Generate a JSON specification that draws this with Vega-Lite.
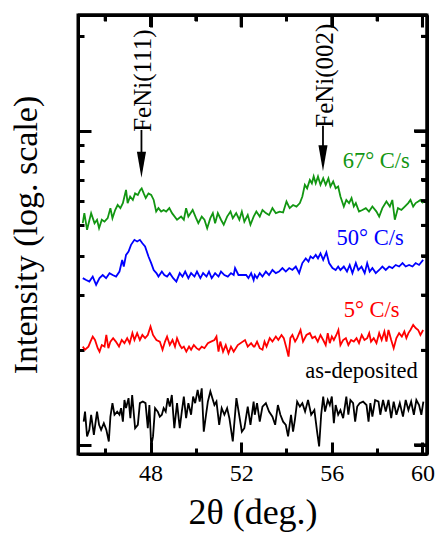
{
"$schema": "https://vega.github.io/schema/vega-lite/v6.json",
"width": 349, "height": 439,
"autosize": {"type": "none"},
"padding": {"left": 78, "top": 15, "right": 11, "bottom": 81},
"config": {"view": {"stroke": "black", "strokeWidth": 3}, "font": "Liberation Serif",
  "axis": {"grid": false, "domain": true, "labels": false, "labelFont": "Liberation Serif", "titleFont": "Liberation Serif", "tickColor": "black", "tickWidth": 3, "domainColor": "black", "domainWidth": 3, "labelColor": "black", "titleColor": "black", "titleFontWeight": "normal", "labelFlush": false}},
"resolve": {"axis": {"x": "independent", "y": "independent"}},
"layer": [
{
 "data": {"values": [
{"series":"67° C/s","x":45.01,"y":0.706},{"series":"67° C/s","x":45.08,"y":0.738},{"series":"67° C/s","x":45.20,"y":0.685},{"series":"67° C/s","x":45.38,"y":0.738},{"series":"67° C/s","x":45.53,"y":0.706},{"series":"67° C/s","x":45.64,"y":0.717},{"series":"67° C/s","x":45.73,"y":0.690},{"series":"67° C/s","x":45.85,"y":0.717},{"series":"67° C/s","x":45.97,"y":0.711},{"series":"67° C/s","x":46.11,"y":0.722},{"series":"67° C/s","x":46.23,"y":0.754},{"series":"67° C/s","x":46.32,"y":0.722},{"series":"67° C/s","x":46.44,"y":0.748},{"series":"67° C/s","x":46.55,"y":0.764},{"series":"67° C/s","x":46.67,"y":0.754},{"series":"67° C/s","x":46.78,"y":0.770},{"series":"67° C/s","x":46.85,"y":0.791},{"series":"67° C/s","x":46.92,"y":0.812},{"series":"67° C/s","x":46.99,"y":0.770},{"series":"67° C/s","x":47.10,"y":0.791},{"series":"67° C/s","x":47.22,"y":0.780},{"series":"67° C/s","x":47.32,"y":0.801},{"series":"67° C/s","x":47.44,"y":0.796},{"series":"67° C/s","x":47.55,"y":0.812},{"series":"67° C/s","x":47.61,"y":0.817},{"series":"67° C/s","x":47.70,"y":0.801},{"series":"67° C/s","x":47.79,"y":0.786},{"series":"67° C/s","x":47.91,"y":0.801},{"series":"67° C/s","x":48.03,"y":0.796},{"series":"67° C/s","x":48.14,"y":0.780},{"series":"67° C/s","x":48.25,"y":0.743},{"series":"67° C/s","x":48.35,"y":0.754},{"series":"67° C/s","x":48.47,"y":0.743},{"series":"67° C/s","x":48.58,"y":0.748},{"series":"67° C/s","x":48.69,"y":0.743},{"series":"67° C/s","x":48.83,"y":0.754},{"series":"67° C/s","x":48.95,"y":0.738},{"series":"67° C/s","x":49.17,"y":0.717},{"series":"67° C/s","x":49.35,"y":0.727},{"series":"67° C/s","x":49.47,"y":0.717},{"series":"67° C/s","x":49.57,"y":0.754},{"series":"67° C/s","x":49.67,"y":0.727},{"series":"67° C/s","x":49.86,"y":0.748},{"series":"67° C/s","x":50.01,"y":0.722},{"series":"67° C/s","x":50.11,"y":0.706},{"series":"67° C/s","x":50.26,"y":0.727},{"series":"67° C/s","x":50.38,"y":0.717},{"series":"67° C/s","x":50.50,"y":0.690},{"series":"67° C/s","x":50.64,"y":0.722},{"series":"67° C/s","x":50.75,"y":0.738},{"series":"67° C/s","x":50.85,"y":0.706},{"series":"67° C/s","x":50.97,"y":0.738},{"series":"67° C/s","x":51.11,"y":0.717},{"series":"67° C/s","x":51.23,"y":0.701},{"series":"67° C/s","x":51.38,"y":0.727},{"series":"67° C/s","x":51.53,"y":0.743},{"series":"67° C/s","x":51.63,"y":0.722},{"series":"67° C/s","x":51.78,"y":0.738},{"series":"67° C/s","x":51.92,"y":0.717},{"series":"67° C/s","x":52.03,"y":0.743},{"series":"67° C/s","x":52.14,"y":0.711},{"series":"67° C/s","x":52.29,"y":0.732},{"series":"67° C/s","x":52.41,"y":0.701},{"series":"67° C/s","x":52.55,"y":0.727},
{"series":"67° C/s","x":52.67,"y":0.743},{"series":"67° C/s","x":52.82,"y":0.727},{"series":"67° C/s","x":52.94,"y":0.748},{"series":"67° C/s","x":53.09,"y":0.738},{"series":"67° C/s","x":53.23,"y":0.732},{"series":"67° C/s","x":53.38,"y":0.754},{"series":"67° C/s","x":53.53,"y":0.738},{"series":"67° C/s","x":53.70,"y":0.743},{"series":"67° C/s","x":53.85,"y":0.740},{"series":"67° C/s","x":54.00,"y":0.775},{"series":"67° C/s","x":54.14,"y":0.754},{"series":"67° C/s","x":54.29,"y":0.764},{"series":"67° C/s","x":54.44,"y":0.759},{"series":"67° C/s","x":54.59,"y":0.770},{"series":"67° C/s","x":54.70,"y":0.791},{"series":"67° C/s","x":54.81,"y":0.828},{"series":"67° C/s","x":54.91,"y":0.817},{"series":"67° C/s","x":55.03,"y":0.844},{"series":"67° C/s","x":55.12,"y":0.833},{"series":"67° C/s","x":55.20,"y":0.855},{"series":"67° C/s","x":55.29,"y":0.833},{"series":"67° C/s","x":55.39,"y":0.855},{"series":"67° C/s","x":55.50,"y":0.828},{"series":"67° C/s","x":55.62,"y":0.849},{"series":"67° C/s","x":55.73,"y":0.828},{"series":"67° C/s","x":55.85,"y":0.849},{"series":"67° C/s","x":55.94,"y":0.823},{"series":"67° C/s","x":56.06,"y":0.839},{"series":"67° C/s","x":56.17,"y":0.817},{"series":"67° C/s","x":56.28,"y":0.823},{"series":"67° C/s","x":56.38,"y":0.791},{"series":"67° C/s","x":56.53,"y":0.759},{"series":"67° C/s","x":56.64,"y":0.780},{"series":"67° C/s","x":56.76,"y":0.770},{"series":"67° C/s","x":56.87,"y":0.786},{"series":"67° C/s","x":56.97,"y":0.759},{"series":"67° C/s","x":57.06,"y":0.770},{"series":"67° C/s","x":57.20,"y":0.743},{"series":"67° C/s","x":57.35,"y":0.748},{"series":"67° C/s","x":57.50,"y":0.754},{"series":"67° C/s","x":57.64,"y":0.743},{"series":"67° C/s","x":57.79,"y":0.759},{"series":"67° C/s","x":57.97,"y":0.743},{"series":"67° C/s","x":58.09,"y":0.727},{"series":"67° C/s","x":58.23,"y":0.754},{"series":"67° C/s","x":58.41,"y":0.775},{"series":"67° C/s","x":58.56,"y":0.759},{"series":"67° C/s","x":58.67,"y":0.780},{"series":"67° C/s","x":58.78,"y":0.717},{"series":"67° C/s","x":58.92,"y":0.754},{"series":"67° C/s","x":59.07,"y":0.748},{"series":"67° C/s","x":59.22,"y":0.759},{"series":"67° C/s","x":59.37,"y":0.770},{"series":"67° C/s","x":59.47,"y":0.780},{"series":"67° C/s","x":59.59,"y":0.759},{"series":"67° C/s","x":59.70,"y":0.770},{"series":"67° C/s","x":59.81,"y":0.775},{"series":"67° C/s","x":59.91,"y":0.780},{"series":"67° C/s","x":60.03,"y":0.770},
{"series":"50° C/s","x":45.01,"y":0.531},{"series":"50° C/s","x":45.16,"y":0.525},{"series":"50° C/s","x":45.30,"y":0.520},{"series":"50° C/s","x":45.45,"y":0.536},{"series":"50° C/s","x":45.60,"y":0.510},{"series":"50° C/s","x":45.75,"y":0.531},{"series":"50° C/s","x":45.89,"y":0.541},{"series":"50° C/s","x":46.04,"y":0.531},{"series":"50° C/s","x":46.19,"y":0.547},{"series":"50° C/s","x":46.33,"y":0.541},{"series":"50° C/s","x":46.48,"y":0.536},{"series":"50° C/s","x":46.63,"y":0.552},{"series":"50° C/s","x":46.75,"y":0.589},{"series":"50° C/s","x":46.82,"y":0.568},{"series":"50° C/s","x":46.92,"y":0.605},{"series":"50° C/s","x":47.03,"y":0.616},{"series":"50° C/s","x":47.14,"y":0.637},{"series":"50° C/s","x":47.29,"y":0.653},{"series":"50° C/s","x":47.41,"y":0.648},{"series":"50° C/s","x":47.53,"y":0.653},{"series":"50° C/s","x":47.64,"y":0.642},{"series":"50° C/s","x":47.76,"y":0.632},{"series":"50° C/s","x":47.91,"y":0.600},{"series":"50° C/s","x":48.03,"y":0.579},{"series":"50° C/s","x":48.14,"y":0.557},{"series":"50° C/s","x":48.26,"y":0.547},{"series":"50° C/s","x":48.35,"y":0.536},{"series":"50° C/s","x":48.50,"y":0.552},{"series":"50° C/s","x":48.61,"y":0.541},{"series":"50° C/s","x":48.73,"y":0.536},{"series":"50° C/s","x":48.85,"y":0.547},{"series":"50° C/s","x":49.00,"y":0.531},{"series":"50° C/s","x":49.14,"y":0.520},{"series":"50° C/s","x":49.29,"y":0.547},{"series":"50° C/s","x":49.41,"y":0.536},{"series":"50° C/s","x":49.53,"y":0.552},{"series":"50° C/s","x":49.67,"y":0.531},{"series":"50° C/s","x":49.79,"y":0.547},{"series":"50° C/s","x":49.94,"y":0.536},{"series":"50° C/s","x":50.05,"y":0.552},{"series":"50° C/s","x":50.20,"y":0.531},{"series":"50° C/s","x":50.32,"y":0.547},{"series":"50° C/s","x":50.47,"y":0.536},{"series":"50° C/s","x":50.58,"y":0.552},{"series":"50° C/s","x":50.70,"y":0.531},{"series":"50° C/s","x":50.85,"y":0.547},{"series":"50° C/s","x":51.00,"y":0.536},{"series":"50° C/s","x":51.11,"y":0.552},{"series":"50° C/s","x":51.26,"y":0.541},{"series":"50° C/s","x":51.41,"y":0.536},{"series":"50° C/s","x":51.55,"y":0.547},{"series":"50° C/s","x":51.67,"y":0.541},{"series":"50° C/s","x":51.73,"y":0.563},{"series":"50° C/s","x":51.88,"y":0.541},{"series":"50° C/s","x":52.07,"y":0.541},{"series":"50° C/s","x":52.22,"y":0.541},{"series":"50° C/s","x":52.32,"y":0.531},{"series":"50° C/s","x":52.44,"y":0.547},{"series":"50° C/s","x":52.55,"y":0.525},
{"series":"50° C/s","x":52.60,"y":0.541},{"series":"50° C/s","x":52.70,"y":0.531},{"series":"50° C/s","x":52.82,"y":0.547},{"series":"50° C/s","x":52.94,"y":0.536},{"series":"50° C/s","x":53.09,"y":0.552},{"series":"50° C/s","x":53.23,"y":0.541},{"series":"50° C/s","x":53.38,"y":0.557},{"series":"50° C/s","x":53.53,"y":0.547},{"series":"50° C/s","x":53.67,"y":0.552},{"series":"50° C/s","x":53.82,"y":0.563},{"series":"50° C/s","x":53.97,"y":0.552},{"series":"50° C/s","x":54.12,"y":0.563},{"series":"50° C/s","x":54.26,"y":0.557},{"series":"50° C/s","x":54.41,"y":0.568},{"series":"50° C/s","x":54.56,"y":0.547},{"series":"50° C/s","x":54.70,"y":0.579},{"series":"50° C/s","x":54.85,"y":0.594},{"series":"50° C/s","x":54.97,"y":0.584},{"series":"50° C/s","x":55.06,"y":0.600},{"series":"50° C/s","x":55.17,"y":0.594},{"series":"50° C/s","x":55.29,"y":0.605},{"series":"50° C/s","x":55.39,"y":0.594},{"series":"50° C/s","x":55.50,"y":0.610},{"series":"50° C/s","x":55.62,"y":0.589},{"series":"50° C/s","x":55.76,"y":0.613},{"series":"50° C/s","x":55.88,"y":0.579},{"series":"50° C/s","x":56.03,"y":0.563},{"series":"50° C/s","x":56.17,"y":0.557},{"series":"50° C/s","x":56.28,"y":0.568},{"series":"50° C/s","x":56.38,"y":0.557},{"series":"50° C/s","x":56.53,"y":0.568},{"series":"50° C/s","x":56.67,"y":0.552},{"series":"50° C/s","x":56.79,"y":0.573},{"series":"50° C/s","x":56.91,"y":0.547},{"series":"50° C/s","x":57.06,"y":0.579},{"series":"50° C/s","x":57.17,"y":0.557},{"series":"50° C/s","x":57.31,"y":0.568},{"series":"50° C/s","x":57.45,"y":0.547},{"series":"50° C/s","x":57.56,"y":0.579},{"series":"50° C/s","x":57.67,"y":0.552},{"series":"50° C/s","x":57.79,"y":0.563},{"series":"50° C/s","x":57.94,"y":0.547},{"series":"50° C/s","x":58.09,"y":0.557},{"series":"50° C/s","x":58.23,"y":0.568},{"series":"50° C/s","x":58.38,"y":0.557},{"series":"50° C/s","x":58.53,"y":0.568},{"series":"50° C/s","x":58.67,"y":0.563},{"series":"50° C/s","x":58.82,"y":0.573},{"series":"50° C/s","x":58.97,"y":0.568},{"series":"50° C/s","x":59.12,"y":0.579},{"series":"50° C/s","x":59.26,"y":0.568},{"series":"50° C/s","x":59.41,"y":0.573},{"series":"50° C/s","x":59.56,"y":0.568},{"series":"50° C/s","x":59.70,"y":0.579},{"series":"50° C/s","x":59.85,"y":0.573},{"series":"50° C/s","x":60.03,"y":0.589},
{"series":"5° C/s","x":45.01,"y":0.313},{"series":"5° C/s","x":45.11,"y":0.303},{"series":"5° C/s","x":45.26,"y":0.313},{"series":"5° C/s","x":45.35,"y":0.329},{"series":"5° C/s","x":45.45,"y":0.345},{"series":"5° C/s","x":45.55,"y":0.334},{"series":"5° C/s","x":45.67,"y":0.308},{"series":"5° C/s","x":45.75,"y":0.297},{"series":"5° C/s","x":45.85,"y":0.318},{"series":"5° C/s","x":45.97,"y":0.313},{"series":"5° C/s","x":46.05,"y":0.350},{"series":"5° C/s","x":46.14,"y":0.308},{"series":"5° C/s","x":46.23,"y":0.329},{"series":"5° C/s","x":46.35,"y":0.340},{"series":"5° C/s","x":46.47,"y":0.329},{"series":"5° C/s","x":46.61,"y":0.313},{"series":"5° C/s","x":46.73,"y":0.334},{"series":"5° C/s","x":46.85,"y":0.324},{"series":"5° C/s","x":46.97,"y":0.340},{"series":"5° C/s","x":47.08,"y":0.324},{"series":"5° C/s","x":47.20,"y":0.356},{"series":"5° C/s","x":47.29,"y":0.334},{"series":"5° C/s","x":47.41,"y":0.356},{"series":"5° C/s","x":47.53,"y":0.334},{"series":"5° C/s","x":47.64,"y":0.350},{"series":"5° C/s","x":47.76,"y":0.340},{"series":"5° C/s","x":47.88,"y":0.350},{"series":"5° C/s","x":48.00,"y":0.377},{"series":"5° C/s","x":48.11,"y":0.350},{"series":"5° C/s","x":48.26,"y":0.334},{"series":"5° C/s","x":48.41,"y":0.329},{"series":"5° C/s","x":48.53,"y":0.303},{"series":"5° C/s","x":48.64,"y":0.329},{"series":"5° C/s","x":48.73,"y":0.345},{"series":"5° C/s","x":48.85,"y":0.318},{"series":"5° C/s","x":48.97,"y":0.334},{"series":"5° C/s","x":49.08,"y":0.313},{"series":"5° C/s","x":49.17,"y":0.340},{"series":"5° C/s","x":49.29,"y":0.318},{"series":"5° C/s","x":49.38,"y":0.308},{"series":"5° C/s","x":49.47,"y":0.313},{"series":"5° C/s","x":49.58,"y":0.297},{"series":"5° C/s","x":49.70,"y":0.313},{"series":"5° C/s","x":49.79,"y":0.303},{"series":"5° C/s","x":49.91,"y":0.318},{"series":"5° C/s","x":50.03,"y":0.308},{"series":"5° C/s","x":50.14,"y":0.303},{"series":"5° C/s","x":50.26,"y":0.313},{"series":"5° C/s","x":50.38,"y":0.308},{"series":"5° C/s","x":50.53,"y":0.324},{"series":"5° C/s","x":50.67,"y":0.329},{"series":"5° C/s","x":50.82,"y":0.334},{"series":"5° C/s","x":50.91,"y":0.345},{"series":"5° C/s","x":51.00,"y":0.297},{"series":"5° C/s","x":51.08,"y":0.329},{"series":"5° C/s","x":51.20,"y":0.297},{"series":"5° C/s","x":51.32,"y":0.318},{"series":"5° C/s","x":51.44,"y":0.292},{"series":"5° C/s","x":51.55,"y":0.313},{"series":"5° C/s","x":51.67,"y":0.297},{"series":"5° C/s","x":51.85,"y":0.318},{"series":"5° C/s","x":52.17,"y":0.334},{"series":"5° C/s","x":52.29,"y":0.313},{"series":"5° C/s","x":52.44,"y":0.324},{"series":"5° C/s","x":52.55,"y":0.313},
{"series":"5° C/s","x":52.59,"y":0.313},{"series":"5° C/s","x":52.70,"y":0.329},{"series":"5° C/s","x":52.82,"y":0.308},{"series":"5° C/s","x":52.94,"y":0.303},{"series":"5° C/s","x":53.03,"y":0.329},{"series":"5° C/s","x":53.12,"y":0.313},{"series":"5° C/s","x":53.26,"y":0.340},{"series":"5° C/s","x":53.38,"y":0.329},{"series":"5° C/s","x":53.53,"y":0.345},{"series":"5° C/s","x":53.64,"y":0.334},{"series":"5° C/s","x":53.78,"y":0.350},{"series":"5° C/s","x":53.88,"y":0.340},{"series":"5° C/s","x":54.00,"y":0.308},{"series":"5° C/s","x":54.09,"y":0.281},{"series":"5° C/s","x":54.17,"y":0.340},{"series":"5° C/s","x":54.26,"y":0.350},{"series":"5° C/s","x":54.38,"y":0.329},{"series":"5° C/s","x":54.47,"y":0.340},{"series":"5° C/s","x":54.62,"y":0.366},{"series":"5° C/s","x":54.73,"y":0.329},{"series":"5° C/s","x":54.88,"y":0.350},{"series":"5° C/s","x":55.03,"y":0.356},{"series":"5° C/s","x":55.14,"y":0.340},{"series":"5° C/s","x":55.26,"y":0.345},{"series":"5° C/s","x":55.38,"y":0.329},{"series":"5° C/s","x":55.50,"y":0.350},{"series":"5° C/s","x":55.62,"y":0.334},{"series":"5° C/s","x":55.73,"y":0.318},{"series":"5° C/s","x":55.82,"y":0.356},{"series":"5° C/s","x":55.91,"y":0.324},{"series":"5° C/s","x":56.00,"y":0.345},{"series":"5° C/s","x":56.09,"y":0.334},{"series":"5° C/s","x":56.20,"y":0.350},{"series":"5° C/s","x":56.29,"y":0.366},{"series":"5° C/s","x":56.38,"y":0.318},{"series":"5° C/s","x":56.50,"y":0.334},{"series":"5° C/s","x":56.62,"y":0.340},{"series":"5° C/s","x":56.73,"y":0.318},{"series":"5° C/s","x":56.85,"y":0.334},{"series":"5° C/s","x":56.97,"y":0.329},{"series":"5° C/s","x":57.09,"y":0.340},{"series":"5° C/s","x":57.20,"y":0.324},{"series":"5° C/s","x":57.32,"y":0.350},{"series":"5° C/s","x":57.44,"y":0.334},{"series":"5° C/s","x":57.56,"y":0.340},{"series":"5° C/s","x":57.65,"y":0.356},{"series":"5° C/s","x":57.73,"y":0.329},{"series":"5° C/s","x":57.85,"y":0.340},{"series":"5° C/s","x":57.97,"y":0.324},{"series":"5° C/s","x":58.09,"y":0.356},{"series":"5° C/s","x":58.20,"y":0.334},{"series":"5° C/s","x":58.32,"y":0.361},{"series":"5° C/s","x":58.41,"y":0.329},{"series":"5° C/s","x":58.50,"y":0.366},{"series":"5° C/s","x":58.62,"y":0.334},{"series":"5° C/s","x":58.73,"y":0.308},{"series":"5° C/s","x":58.85,"y":0.340},{"series":"5° C/s","x":58.97,"y":0.356},{"series":"5° C/s","x":59.09,"y":0.345},{"series":"5° C/s","x":59.20,"y":0.361},{"series":"5° C/s","x":59.29,"y":0.340},{"series":"5° C/s","x":59.38,"y":0.356},{"series":"5° C/s","x":59.47,"y":0.366},{"series":"5° C/s","x":59.59,"y":0.382},{"series":"5° C/s","x":59.70,"y":0.372},{"series":"5° C/s","x":59.81,"y":0.366},{"series":"5° C/s","x":59.91,"y":0.350},{"series":"5° C/s","x":60.03,"y":0.366},
{"series":"as-deposited","x":45.05,"y":0.074},{"series":"as-deposited","x":45.11,"y":0.106},{"series":"as-deposited","x":45.20,"y":0.027},{"series":"as-deposited","x":45.30,"y":0.048},{"series":"as-deposited","x":45.38,"y":0.096},{"series":"as-deposited","x":45.50,"y":0.032},{"series":"as-deposited","x":45.64,"y":0.106},{"series":"as-deposited","x":45.73,"y":0.064},{"series":"as-deposited","x":45.82,"y":0.048},{"series":"as-deposited","x":45.94,"y":0.069},{"series":"as-deposited","x":46.05,"y":0.048},{"series":"as-deposited","x":46.16,"y":0.011},{"series":"as-deposited","x":46.23,"y":0.090},{"series":"as-deposited","x":46.32,"y":0.133},{"series":"as-deposited","x":46.41,"y":0.096},{"series":"as-deposited","x":46.53,"y":0.106},{"series":"as-deposited","x":46.63,"y":0.096},{"series":"as-deposited","x":46.70,"y":0.117},{"series":"as-deposited","x":46.78,"y":0.074},{"series":"as-deposited","x":46.85,"y":0.143},{"series":"as-deposited","x":46.92,"y":0.117},{"series":"as-deposited","x":47.03,"y":0.149},{"series":"as-deposited","x":47.11,"y":0.085},{"series":"as-deposited","x":47.19,"y":0.159},{"series":"as-deposited","x":47.32,"y":0.053},{"series":"as-deposited","x":47.44,"y":0.064},{"series":"as-deposited","x":47.53,"y":0.133},{"series":"as-deposited","x":47.66,"y":0.138},{"series":"as-deposited","x":47.78,"y":0.133},{"series":"as-deposited","x":47.88,"y":0.053},{"series":"as-deposited","x":47.95,"y":0.127},{"series":"as-deposited","x":48.03,"y":-0.005},{"series":"as-deposited","x":48.11,"y":0.027},{"series":"as-deposited","x":48.20,"y":0.117},{"series":"as-deposited","x":48.32,"y":0.106},{"series":"as-deposited","x":48.41,"y":0.090},{"series":"as-deposited","x":48.50,"y":0.096},{"series":"as-deposited","x":48.58,"y":0.117},{"series":"as-deposited","x":48.67,"y":0.106},{"series":"as-deposited","x":48.76,"y":0.149},{"series":"as-deposited","x":48.85,"y":0.122},{"series":"as-deposited","x":48.94,"y":0.159},{"series":"as-deposited","x":49.05,"y":0.053},{"series":"as-deposited","x":49.17,"y":0.133},{"series":"as-deposited","x":49.29,"y":0.053},{"series":"as-deposited","x":49.38,"y":0.106},{"series":"as-deposited","x":49.47,"y":0.154},{"series":"as-deposited","x":49.57,"y":0.085},{"series":"as-deposited","x":49.67,"y":0.133},{"series":"as-deposited","x":49.79,"y":0.096},{"series":"as-deposited","x":49.88,"y":0.154},{"series":"as-deposited","x":49.97,"y":0.133},{"series":"as-deposited","x":50.08,"y":0.175},{"series":"as-deposited","x":50.17,"y":0.138},{"series":"as-deposited","x":50.26,"y":0.180},{"series":"as-deposited","x":50.35,"y":0.042},{"series":"as-deposited","x":50.45,"y":0.096},{"series":"as-deposited","x":50.53,"y":0.138},{"series":"as-deposited","x":50.64,"y":0.170},{"series":"as-deposited","x":50.82,"y":0.127},{"series":"as-deposited","x":50.91,"y":0.138},{"series":"as-deposited","x":51.03,"y":0.064},{"series":"as-deposited","x":51.14,"y":0.117},{"series":"as-deposited","x":51.26,"y":0.096},{"series":"as-deposited","x":51.38,"y":0.117},{"series":"as-deposited","x":51.48,"y":0.085},{"series":"as-deposited","x":51.63,"y":0.011},{"series":"as-deposited","x":51.79,"y":0.149},{"series":"as-deposited","x":51.91,"y":0.096},{"series":"as-deposited","x":52.03,"y":0.042},{"series":"as-deposited","x":52.14,"y":0.053},{"series":"as-deposited","x":52.29,"y":0.122},{"series":"as-deposited","x":52.41,"y":0.064},{"series":"as-deposited","x":52.55,"y":0.138},
{"series":"as-deposited","x":52.60,"y":0.096},{"series":"as-deposited","x":52.70,"y":0.133},{"series":"as-deposited","x":52.82,"y":0.074},{"series":"as-deposited","x":52.94,"y":0.122},{"series":"as-deposited","x":53.09,"y":0.133},{"series":"as-deposited","x":53.23,"y":0.106},{"series":"as-deposited","x":53.38,"y":0.090},{"series":"as-deposited","x":53.50,"y":0.064},{"series":"as-deposited","x":53.62,"y":0.127},{"series":"as-deposited","x":53.73,"y":0.096},{"series":"as-deposited","x":53.85,"y":0.074},{"series":"as-deposited","x":53.97,"y":0.064},{"series":"as-deposited","x":54.07,"y":0.027},{"series":"as-deposited","x":54.20,"y":0.096},{"series":"as-deposited","x":54.29,"y":0.042},{"series":"as-deposited","x":54.37,"y":0.080},{"series":"as-deposited","x":54.47,"y":0.138},{"series":"as-deposited","x":54.59,"y":0.122},{"series":"as-deposited","x":54.70,"y":0.133},{"series":"as-deposited","x":54.82,"y":0.106},{"series":"as-deposited","x":54.95,"y":0.143},{"series":"as-deposited","x":55.09,"y":0.096},{"series":"as-deposited","x":55.23,"y":0.111},{"series":"as-deposited","x":55.35,"y":0.042},{"series":"as-deposited","x":55.44,"y":-0.005},{"series":"as-deposited","x":55.53,"y":0.096},{"series":"as-deposited","x":55.62,"y":0.154},{"series":"as-deposited","x":55.70,"y":0.106},{"series":"as-deposited","x":55.82,"y":0.143},{"series":"as-deposited","x":55.91,"y":0.127},{"series":"as-deposited","x":56.00,"y":0.154},{"series":"as-deposited","x":56.09,"y":0.069},{"series":"as-deposited","x":56.17,"y":0.127},{"series":"as-deposited","x":56.28,"y":0.096},{"series":"as-deposited","x":56.38,"y":0.111},{"series":"as-deposited","x":56.50,"y":0.085},{"series":"as-deposited","x":56.64,"y":0.154},{"series":"as-deposited","x":56.73,"y":0.096},{"series":"as-deposited","x":56.82,"y":0.143},{"series":"as-deposited","x":56.94,"y":0.133},{"series":"as-deposited","x":57.03,"y":0.074},{"series":"as-deposited","x":57.12,"y":0.122},{"series":"as-deposited","x":57.23,"y":0.133},{"series":"as-deposited","x":57.38,"y":0.138},{"series":"as-deposited","x":57.53,"y":0.127},{"series":"as-deposited","x":57.62,"y":0.074},{"series":"as-deposited","x":57.70,"y":0.133},{"series":"as-deposited","x":57.79,"y":0.090},{"series":"as-deposited","x":57.91,"y":0.143},{"series":"as-deposited","x":58.06,"y":0.138},{"series":"as-deposited","x":58.14,"y":0.096},{"series":"as-deposited","x":58.26,"y":0.143},{"series":"as-deposited","x":58.38,"y":0.106},{"series":"as-deposited","x":58.50,"y":0.143},{"series":"as-deposited","x":58.62,"y":0.085},{"series":"as-deposited","x":58.73,"y":0.138},{"series":"as-deposited","x":58.85,"y":0.096},{"series":"as-deposited","x":59.00,"y":0.133},{"series":"as-deposited","x":59.14,"y":0.090},{"series":"as-deposited","x":59.26,"y":0.143},{"series":"as-deposited","x":59.38,"y":0.111},{"series":"as-deposited","x":59.50,"y":0.138},{"series":"as-deposited","x":59.62,"y":0.096},{"series":"as-deposited","x":59.73,"y":0.143},{"series":"as-deposited","x":59.85,"y":0.127},{"series":"as-deposited","x":59.95,"y":0.096},{"series":"as-deposited","x":60.04,"y":0.138}
 ]},
 "mark": {"type": "line", "strokeWidth": 1.8},
 "encoding": {
  "x": {"field": "x", "type": "quantitative", "scale": {"domain": [44.8, 60.2], "nice": false, "zero": false},
        "axis": {"orient": "bottom", "values": [46, 48, 50, 52, 54, 56, 58, 60], "labels": true, "labelExpr": "datum.value % 4 === 0 ? datum.label : ''", "tickSize": {"condition": {"test": "datum.value % 4 === 0", "value": -12}, "value": -6}, "labelFontSize": 24, "labelPadding": 19, "title": "2θ (deg.)", "titleFontSize": 36, "titlePadding": 10}},
  "y": {"field": "y", "type": "quantitative", "scale": {"domain": [-0.029, 1.369], "nice": false, "zero": false},
        "axis": {"orient": "left", "values": [0, 0.301, 0.477, 0.602, 0.699, 0.778, 0.845, 0.903, 0.954, 1, 1.301], "tickSize": {"condition": {"test": "datum.value === 0 || datum.value === 1", "value": -13}, "value": -6}, "title": "Intensity (log. scale)", "titleFontSize": 34, "titlePadding": 33}},
  "color": {"field": "series", "type": "nominal", "scale": {"domain": ["67° C/s", "50° C/s", "5° C/s", "as-deposited"], "range": ["#129612", "#0000ff", "#ff0000", "#000000"]}, "legend": null}
 }
},
{
 "data": {"values": [{"x": 44.8, "x2": 60.2, "y": 1.369}]},
 "mark": {"type": "rule", "strokeWidth": 3, "color": "black"},
 "encoding": {
  "x": {"field": "x", "type": "quantitative", "scale": {"domain": [44.8, 60.2], "nice": false, "zero": false}, "axis": null},
  "x2": {"field": "x2"},
  "y": {"field": "y", "type": "quantitative", "scale": {"domain": [-0.029, 1.369], "nice": false, "zero": false}, "axis": null}
 }
},
{
 "data": {"values": [{"x": 60.2, "y": -0.029, "y2": 1.369}]},
 "mark": {"type": "rule", "strokeWidth": 3, "color": "black"},
 "encoding": {
  "x": {"field": "x", "type": "quantitative", "scale": {"domain": [44.8, 60.2], "nice": false, "zero": false}, "axis": null},
  "y": {"field": "y", "type": "quantitative", "scale": {"domain": [-0.029, 1.369], "nice": false, "zero": false}, "axis": null},
  "y2": {"field": "y2"}
 }
},
{
 "data": {"values": [{"v": 48, "e": 1.369}, {"v": 52, "e": 1.369}, {"v": 56, "e": 1.369}, {"v": 60, "e": 1.369}]},
 "mark": {"type": "tick", "orient": "vertical", "size": 12, "thickness": 3, "yOffset": 6, "color": "black", "opacity": 1},
 "encoding": {
  "x": {"field": "v", "type": "quantitative", "scale": {"domain": [44.8, 60.2], "nice": false, "zero": false}, "axis": null},
  "y": {"field": "e", "type": "quantitative", "scale": {"domain": [-0.029, 1.369], "nice": false, "zero": false}, "axis": null}
 }
},
{
 "data": {"values": [{"v": 46, "e": 1.369}, {"v": 50, "e": 1.369}, {"v": 54, "e": 1.369}, {"v": 58, "e": 1.369}]},
 "mark": {"type": "tick", "orient": "vertical", "size": 6, "thickness": 3, "yOffset": 3, "color": "black", "opacity": 1},
 "encoding": {
  "x": {"field": "v", "type": "quantitative", "scale": {"domain": [44.8, 60.2], "nice": false, "zero": false}, "axis": null},
  "y": {"field": "e", "type": "quantitative", "scale": {"domain": [-0.029, 1.369], "nice": false, "zero": false}, "axis": null}
 }
},
{
 "data": {"values": [{"v": 0, "e": 60.2}, {"v": 1, "e": 60.2}]},
 "mark": {"type": "tick", "orient": "horizontal", "size": 13, "thickness": 3, "xOffset": -6.5, "color": "black", "opacity": 1},
 "encoding": {
  "x": {"field": "e", "type": "quantitative", "scale": {"domain": [44.8, 60.2], "nice": false, "zero": false}, "axis": null},
  "y": {"field": "v", "type": "quantitative", "scale": {"domain": [-0.029, 1.369], "nice": false, "zero": false}, "axis": null}
 }
},
{
 "data": {"values": [{"v": 0.301, "e": 60.2}, {"v": 0.477, "e": 60.2}, {"v": 0.602, "e": 60.2}, {"v": 0.699, "e": 60.2}, {"v": 0.778, "e": 60.2}, {"v": 0.845, "e": 60.2}, {"v": 0.903, "e": 60.2}, {"v": 0.954, "e": 60.2}, {"v": 1.301, "e": 60.2}]},
 "mark": {"type": "tick", "orient": "horizontal", "size": 6, "thickness": 3, "xOffset": -3, "color": "black", "opacity": 1},
 "encoding": {
  "x": {"field": "e", "type": "quantitative", "scale": {"domain": [44.8, 60.2], "nice": false, "zero": false}, "axis": null},
  "y": {"field": "v", "type": "quantitative", "scale": {"domain": [-0.029, 1.369], "nice": false, "zero": false}, "axis": null}
 }
},
{
 "data": {"values": [{"x": 47.6, "y": 0.892}, {"x": 55.61, "y": 0.913}]},
 "mark": {"type": "point", "shape": "M-0.35,-1L0.35,-1L0,1Z", "size": 676, "filled": true, "color": "black", "opacity": 1, "strokeWidth": 0},
 "encoding": {
  "x": {"field": "x", "type": "quantitative", "scale": {"domain": [44.8, 60.2], "nice": false, "zero": false}, "axis": null},
  "y": {"field": "y", "type": "quantitative", "scale": {"domain": [-0.029, 1.369], "nice": false, "zero": false}, "axis": null}
 }
},
{
 "data": {"values": [
  {"series": "67° C/s", "x": 59.44, "y": 0.882},
  {"series": "50° C/s", "x": 59.17, "y": 0.637},
  {"series": "5° C/s", "x": 58.99, "y": 0.408},
  {"series": "as-deposited", "x": 59.79, "y": 0.213}
 ]},
 "mark": {"type": "text", "align": "right", "baseline": "alphabetic", "fontSize": 22.5, "font": "Liberation Serif"},
 "encoding": {
  "x": {"field": "x", "type": "quantitative", "scale": {"domain": [44.8, 60.2], "nice": false, "zero": false}, "axis": null},
  "y": {"field": "y", "type": "quantitative", "scale": {"domain": [-0.029, 1.369], "nice": false, "zero": false}, "axis": null},
  "text": {"field": "series"},
  "color": {"field": "series", "type": "nominal", "scale": {"domain": ["67° C/s", "50° C/s", "5° C/s", "as-deposited"], "range": ["#129612", "#0000ff", "#ff0000", "#000000"]}, "legend": null}
 }
},
{
 "data": {"values": [
  {"label": "FeNi(111)", "x": 47.6, "y": 0.997},
  {"label": "FeNi(002)", "x": 55.61, "y": 1.01}
 ]},
 "mark": {"type": "text", "angle": 270, "align": "left", "baseline": "middle", "fontSize": 25, "font": "Liberation Serif", "color": "black", "dy": 2},
 "encoding": {
  "x": {"field": "x", "type": "quantitative", "scale": {"domain": [44.8, 60.2], "nice": false, "zero": false}, "axis": null},
  "y": {"field": "y", "type": "quantitative", "scale": {"domain": [-0.029, 1.369], "nice": false, "zero": false}, "axis": null},
  "text": {"field": "label"}
 }
},
{
 "data": {"values": [{"x": 47.6, "y": 1.003, "y2": 0.9}, {"x": 55.61, "y": 1.016, "y2": 0.92}]},
 "mark": {"type": "rule", "strokeWidth": 1.8, "color": "black"},
 "encoding": {
  "x": {"field": "x", "type": "quantitative", "scale": {"domain": [44.8, 60.2], "nice": false, "zero": false},
        "axis": {"orient": "top", "values": [46, 48, 50, 52, 54, 56, 58, 60], "tickSize": {"condition": {"test": "datum.value % 4 === 0", "value": -12}, "value": -6}, "title": null}},
  "y": {"field": "y", "type": "quantitative", "scale": {"domain": [-0.029, 1.369], "nice": false, "zero": false},
        "axis": {"orient": "right", "values": [0, 0.301, 0.477, 0.602, 0.699, 0.778, 0.845, 0.903, 0.954, 1, 1.301], "tickSize": {"condition": {"test": "datum.value === 0 || datum.value === 1", "value": -13}, "value": -6}, "title": null}},
  "y2": {"field": "y2"}
 }
}
]
}
